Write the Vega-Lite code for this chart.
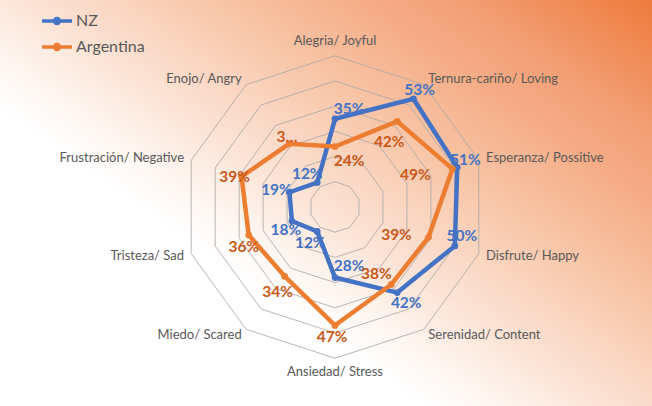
{
 "$schema": "https://vega.github.io/schema/vega-lite/v6.json",
 "width": 652,
 "height": 406,
 "autosize": {"type": "fit", "contains": "padding"},
 "padding": 0,
 "background": "#FFFFFF",
 "config": {"view": {"stroke": null}, "font": "Lato", "text": {"font": "Lato"}},
 "datasets": {
  "axes": [
   {"emotion": "Alegria/ Joyful", "idx": 0, "rings": [0.1, 0.2, 0.3, 0.4, 0.5, 0.6]},
   {"emotion": "Ternura-cariño/ Loving", "idx": 1, "rings": [0.1, 0.2, 0.3, 0.4, 0.5, 0.6]},
   {"emotion": "Esperanza/ Possitive", "idx": 2, "rings": [0.1, 0.2, 0.3, 0.4, 0.5, 0.6]},
   {"emotion": "Disfrute/ Happy", "idx": 3, "rings": [0.1, 0.2, 0.3, 0.4, 0.5, 0.6]},
   {"emotion": "Serenidad/ Content", "idx": 4, "rings": [0.1, 0.2, 0.3, 0.4, 0.5, 0.6]},
   {"emotion": "Ansiedad/ Stress", "idx": 5, "rings": [0.1, 0.2, 0.3, 0.4, 0.5, 0.6]},
   {"emotion": "Miedo/ Scared", "idx": 6, "rings": [0.1, 0.2, 0.3, 0.4, 0.5, 0.6]},
   {"emotion": "Tristeza/ Sad", "idx": 7, "rings": [0.1, 0.2, 0.3, 0.4, 0.5, 0.6]},
   {"emotion": "Frustración/ Negative", "idx": 8, "rings": [0.1, 0.2, 0.3, 0.4, 0.5, 0.6]},
   {"emotion": "Enojo/ Angry", "idx": 9, "rings": [0.1, 0.2, 0.3, 0.4, 0.5, 0.6]}
  ],
  "scores": [
   {"series": "NZ", "emotion": "Alegria/ Joyful", "value": 0.35},
   {"series": "NZ", "emotion": "Ternura-cariño/ Loving", "value": 0.53},
   {"series": "NZ", "emotion": "Esperanza/ Possitive", "value": 0.51},
   {"series": "NZ", "emotion": "Disfrute/ Happy", "value": 0.50},
   {"series": "NZ", "emotion": "Serenidad/ Content", "value": 0.42},
   {"series": "NZ", "emotion": "Ansiedad/ Stress", "value": 0.28},
   {"series": "NZ", "emotion": "Miedo/ Scared", "value": 0.12},
   {"series": "NZ", "emotion": "Tristeza/ Sad", "value": 0.18},
   {"series": "NZ", "emotion": "Frustración/ Negative", "value": 0.19},
   {"series": "NZ", "emotion": "Enojo/ Angry", "value": 0.12},
   {"series": "Argentina", "emotion": "Alegria/ Joyful", "value": 0.24},
   {"series": "Argentina", "emotion": "Ternura-cariño/ Loving", "value": 0.42},
   {"series": "Argentina", "emotion": "Esperanza/ Possitive", "value": 0.49},
   {"series": "Argentina", "emotion": "Disfrute/ Happy", "value": 0.39},
   {"series": "Argentina", "emotion": "Serenidad/ Content", "value": 0.38},
   {"series": "Argentina", "emotion": "Ansiedad/ Stress", "value": 0.47},
   {"series": "Argentina", "emotion": "Miedo/ Scared", "value": 0.34},
   {"series": "Argentina", "emotion": "Tristeza/ Sad", "value": 0.36},
   {"series": "Argentina", "emotion": "Frustración/ Negative", "value": 0.39},
   {"series": "Argentina", "emotion": "Enojo/ Angry", "value": 0.31}
  ]
 },
 "layer": [
  {
   "data": {"values": [{"box": "plot"}]},
   "mark": {"type": "rect", "strokeWidth": 0, "color": {"gradient": "linear", "x1": 0.307, "y1": 0.616, "x2": 1, "y2": 0, "stops": [
     {"offset": 0, "color": "#FFFFFF"},
     {"offset": 0.1, "color": "#FEF5EF"},
     {"offset": 0.2, "color": "#FCE6DA"},
     {"offset": 0.45, "color": "#F8C6A8"},
     {"offset": 0.65, "color": "#F5AB84"},
     {"offset": 0.75, "color": "#F3A077"},
     {"offset": 1, "color": "#EE7B3C"}
   ]}},
   "encoding": {
    "x": {"datum": -1.3294, "type": "quantitative", "scale": {"domain": [-1.3294, 1.2579], "nice": false, "zero": false}, "axis": null},
    "x2": {"datum": 1.2579},
    "y": {"datum": -0.7897, "type": "quantitative", "scale": {"domain": [-0.7897, 0.8214], "nice": false, "zero": false}, "axis": null},
    "y2": {"datum": 0.8214}
   }
  },
  {
   "data": {"name": "axes"},
   "transform": [
    {"flatten": ["rings"], "as": ["ring"]},
    {"calculate": "datum.ring*sin(datum.idx*PI/5)", "as": "px"},
    {"calculate": "datum.ring*cos(datum.idx*PI/5)", "as": "py"}
   ],
   "mark": {"type": "line", "interpolate": "linear-closed", "stroke": "#A6A6A6", "strokeWidth": 0.8},
   "encoding": {
    "x": {"field": "px", "type": "quantitative", "scale": {"domain": [-1.3294, 1.2579], "nice": false, "zero": false}, "axis": null},
    "y": {"field": "py", "type": "quantitative", "scale": {"domain": [-0.7897, 0.8214], "nice": false, "zero": false}, "axis": null},
    "detail": {"field": "ring", "type": "nominal"},
    "order": {"field": "idx", "type": "quantitative"}
   }
  },
  {
   "data": {"name": "axes"},
   "transform": [
    {"calculate": "0.63*sin(datum.idx*PI/5)", "as": "px"},
    {"calculate": "0.63*cos(datum.idx*PI/5)", "as": "py"}
   ],
   "encoding": {
    "x": {"field": "px", "type": "quantitative", "scale": {"domain": [-1.3294, 1.2579], "nice": false, "zero": false}, "axis": null},
    "y": {"field": "py", "type": "quantitative", "scale": {"domain": [-0.7897, 0.8214], "nice": false, "zero": false}, "axis": null},
    "text": {"field": "emotion", "type": "nominal"}
   },
   "layer": [
    {"transform": [{"filter": "datum.idx===0"}], "mark": {"type": "text", "align": "center", "baseline": "bottom", "fontSize": 13, "color": "#595959", "font": "Lato"}},
    {"transform": [{"filter": "datum.idx===5"}], "mark": {"type": "text", "align": "center", "baseline": "top", "fontSize": 13, "color": "#595959", "font": "Lato"}},
    {"transform": [{"filter": "datum.idx>=1 && datum.idx<=4"}], "mark": {"type": "text", "align": "left", "baseline": "middle", "fontSize": 13, "color": "#595959", "font": "Lato"}},
    {"transform": [{"filter": "datum.idx>=6"}], "mark": {"type": "text", "align": "right", "baseline": "middle", "fontSize": 13, "color": "#595959", "font": "Lato"}}
   ]
  },
  {
   "data": {"name": "scores"},
   "transform": [
    {"lookup": "emotion", "from": {"data": {"name": "axes"}, "key": "emotion", "fields": ["idx"]}},
    {"calculate": "datum.value*sin(datum.idx*PI/5)", "as": "px"},
    {"calculate": "datum.value*cos(datum.idx*PI/5)", "as": "py"}
   ],
   "encoding": {
    "x": {"field": "px", "type": "quantitative", "scale": {"domain": [-1.3294, 1.2579], "nice": false, "zero": false}, "axis": null},
    "y": {"field": "py", "type": "quantitative", "scale": {"domain": [-0.7897, 0.8214], "nice": false, "zero": false}, "axis": null}
   },
   "layer": [
    {
     "transform": [{"filter": "datum.series==='NZ'"}],
     "mark": {"type": "line", "interpolate": "linear-closed", "strokeWidth": 4.5},
     "encoding": {
      "color": {"field": "series", "type": "nominal", "scale": {"domain": ["NZ", "Argentina"], "range": ["#4472C4", "#ED7D31"]},
       "legend": {"title": null, "orient": "none", "legendX": 45, "legendY": 9, "padding": 0,
        "symbolType": "M-1.5,0L1.5,0M-0.25,0A0.25,0.25,0,1,1,0.25,0A0.25,0.25,0,1,1,-0.25,0",
        "symbolSize": 400, "symbolStrokeWidth": 3.5, "labelFontSize": 16, "labelColor": "#595959", "labelFont": "Lato", "labelOffset": 7, "rowPadding": 4}},
      "order": {"field": "idx", "type": "quantitative"}
     }
    },
    {
     "transform": [{"filter": "datum.series==='NZ'"}],
     "mark": {"type": "circle", "size": 45, "opacity": 1, "color": "#4472C4"}
    },
    {
     "transform": [{"filter": "datum.series==='Argentina'"}],
     "mark": {"type": "line", "interpolate": "linear-closed", "strokeWidth": 4.5},
     "encoding": {
      "color": {"field": "series", "type": "nominal", "scale": {"domain": ["NZ", "Argentina"], "range": ["#4472C4", "#ED7D31"]}},
      "order": {"field": "idx", "type": "quantitative"}
     }
    },
    {
     "transform": [{"filter": "datum.series==='Argentina'"}],
     "mark": {"type": "circle", "size": 45, "opacity": 1, "color": "#ED7D31"}
    },
    {
     "encoding": {
      "text": {"field": "value", "type": "quantitative", "format": ".0%"},
      "color": {"condition": {"test": "datum.series==='NZ'", "value": "#4472C4"}, "value": "#C8591A"}
     },
     "layer": [
      {"transform": [{"filter": "datum.series==='NZ' && datum.idx===0"}], "mark": {"type": "text", "fontSize": 15.5, "fontWeight": "bold", "dx": 14, "dy": -10}},
      {"transform": [{"filter": "datum.series==='NZ' && datum.idx===1"}], "mark": {"type": "text", "fontSize": 15.5, "fontWeight": "bold", "dx": 6, "dy": -9}},
      {"transform": [{"filter": "datum.series==='NZ' && datum.idx===2"}], "mark": {"type": "text", "fontSize": 15.5, "fontWeight": "bold", "dx": 8, "dy": -7}},
      {"transform": [{"filter": "datum.series==='NZ' && datum.idx===3"}], "mark": {"type": "text", "fontSize": 15.5, "fontWeight": "bold", "dx": 7, "dy": -10}},
      {"transform": [{"filter": "datum.series==='NZ' && datum.idx===4"}], "mark": {"type": "text", "fontSize": 15.5, "fontWeight": "bold", "dx": 9, "dy": 10}},
      {"transform": [{"filter": "datum.series==='NZ' && datum.idx===5"}], "mark": {"type": "text", "fontSize": 15.5, "fontWeight": "bold", "dx": 14, "dy": -12}},
      {"transform": [{"filter": "datum.series==='NZ' && datum.idx===6"}], "mark": {"type": "text", "fontSize": 15.5, "fontWeight": "bold", "dx": -7, "dy": 12}},
      {"transform": [{"filter": "datum.series==='NZ' && datum.idx===7"}], "mark": {"type": "text", "fontSize": 15.5, "fontWeight": "bold", "dx": -6, "dy": 9}},
      {"transform": [{"filter": "datum.series==='NZ' && datum.idx===8"}], "mark": {"type": "text", "fontSize": 15.5, "fontWeight": "bold", "dx": -13, "dy": -2}},
      {"transform": [{"filter": "datum.series==='NZ' && datum.idx===9"}], "mark": {"type": "text", "fontSize": 15.5, "fontWeight": "bold", "dx": -10, "dy": -9}},
      {"transform": [{"filter": "datum.series==='Argentina' && datum.idx===0"}], "mark": {"type": "text", "fontSize": 15.5, "fontWeight": "bold", "dx": 14, "dy": 14}},
      {"transform": [{"filter": "datum.series==='Argentina' && datum.idx===1"}], "mark": {"type": "text", "fontSize": 15.5, "fontWeight": "bold", "dx": -8, "dy": 21}},
      {"transform": [{"filter": "datum.series==='Argentina' && datum.idx===2"}], "mark": {"type": "text", "fontSize": 15.5, "fontWeight": "bold", "dx": -37, "dy": 6}},
      {"transform": [{"filter": "datum.series==='Argentina' && datum.idx===3"}], "mark": {"type": "text", "fontSize": 15.5, "fontWeight": "bold", "dx": -32, "dy": -2}},
      {"transform": [{"filter": "datum.series==='Argentina' && datum.idx===4"}], "mark": {"type": "text", "fontSize": 15.5, "fontWeight": "bold", "dx": -15, "dy": -10}},
      {"transform": [{"filter": "datum.series==='Argentina' && datum.idx===5"}], "mark": {"type": "text", "fontSize": 15.5, "fontWeight": "bold", "dx": -3, "dy": 12}},
      {"transform": [{"filter": "datum.series==='Argentina' && datum.idx===6"}], "mark": {"type": "text", "fontSize": 15.5, "fontWeight": "bold", "dx": -7, "dy": 16}},
      {"transform": [{"filter": "datum.series==='Argentina' && datum.idx===7"}], "mark": {"type": "text", "fontSize": 15.5, "fontWeight": "bold", "dx": -5, "dy": 12}},
      {"transform": [{"filter": "datum.series==='Argentina' && datum.idx===8"}], "mark": {"type": "text", "fontSize": 15.5, "fontWeight": "bold", "dx": -7, "dy": 0}},
      {"transform": [{"filter": "datum.series==='Argentina' && datum.idx===9"}], "mark": {"type": "text", "fontSize": 15.5, "fontWeight": "bold", "dx": -2, "dy": -7, "limit": 22}}
     ]
    }
   ]
  }
 ]
}
